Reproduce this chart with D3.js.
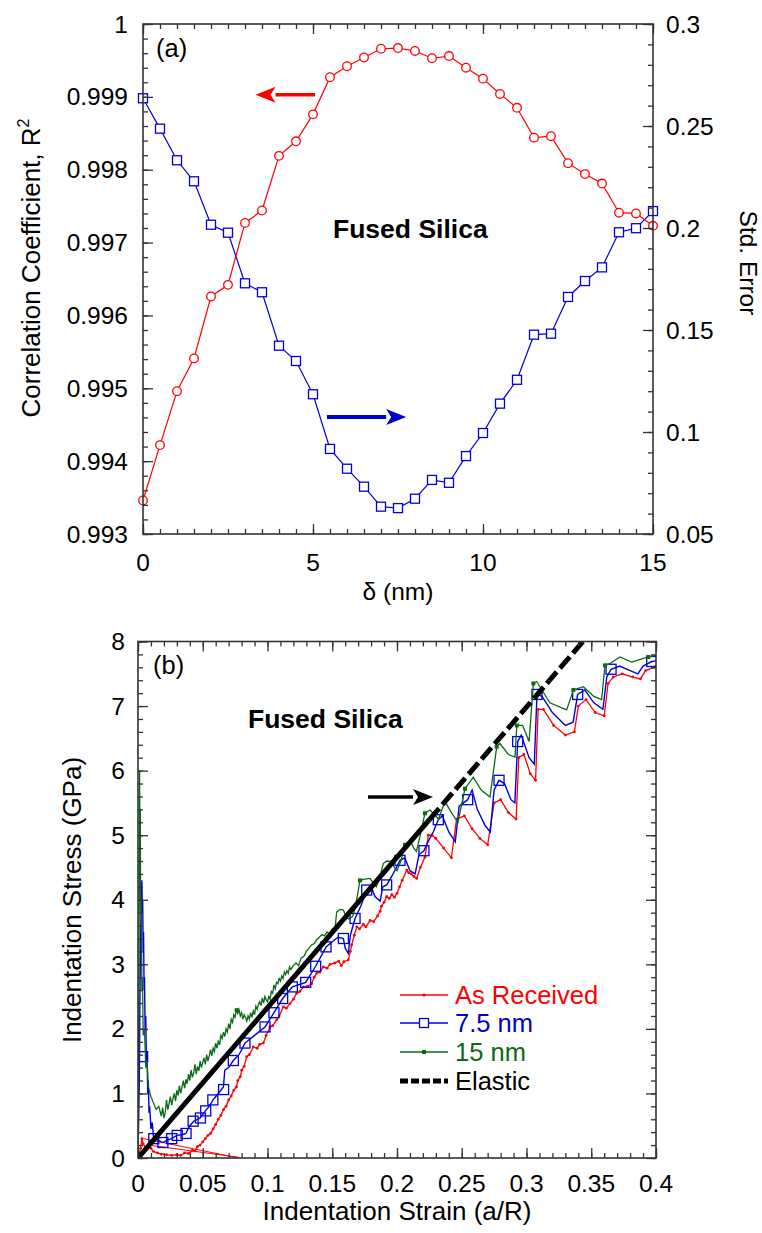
<!DOCTYPE html>
<html><head><meta charset="utf-8">
<script src="https://cdn.jsdelivr.net/npm/d3@7"></script>
<style>
body{margin:0;background:#fff}
svg{display:block}
text{font-family:"Liberation Sans",Arial,sans-serif;fill:#000}
</style>
</head><body>
<svg id="c" width="762" height="1233"></svg>
<script>
// ---------- Panel (a) data ----------
const delta = [0,0.5,1,1.5,2,2.5,3,3.5,4,4.5,5,5.5,6,6.5,7,7.5,8,8.5,9,9.5,10,10.5,11,11.5,12,12.5,13,13.5,14,14.5,15];
const r2 = [0.99346,0.99422,0.99496,0.99541,0.99626,0.99642,0.99727,0.99744,0.99819,0.99839,0.99876,0.99927,0.99942,0.99954,0.99966,0.99967,0.99963,0.99953,0.99956,0.99940,0.99925,0.99904,0.99885,0.99844,0.99846,0.99809,0.99794,0.99781,0.99741,0.99740,0.99723];
const stdErr = [0.2636,0.2487,0.2332,0.2229,0.2016,0.1977,0.1729,0.1685,0.1423,0.1348,0.1185,0.0917,0.0820,0.0732,0.0634,0.0627,0.0673,0.0765,0.0751,0.0882,0.0995,0.1139,0.1256,0.1477,0.1482,0.1662,0.1740,0.1807,0.1979,0.1999,0.2083];
const aXTicks = [0,5,10,15];
const aXLabels = ["0","5","10","15"];
const aYLTicks = [0.993,0.994,0.995,0.996,0.997,0.998,0.999,1];
const aYLLabels = ["0.993","0.994","0.995","0.996","0.997","0.998","0.999","1"];
const aYRTicks = [0.05,0.1,0.15,0.2,0.25,0.3];
const aYRLabels = ["0.05","0.1","0.15","0.2","0.25","0.3"];

// ---------- Panel (b) data ----------
const asReceived = [[0,0],[0.002,0.15],[0.003,0.3],[0.004,0.22],[0.006,0.15],[0.008,0.2],[0.01,0.15],[0.012,0.1],[0.015,0.08],[0.018,0.06],[0.022,0.05],[0.026,0.04],[0.03,0.05],[0.033,0.04],[0.036,0.08],[0.039,0.07],[0.042,0.12],[0.044,0.11],[0.046,0.18],[0.048,0.2],[0.05,0.25],[0.052,0.3],[0.054,0.35],[0.056,0.38],[0.058,0.45],[0.06,0.52],[0.062,0.6],[0.064,0.66],[0.066,0.75],[0.068,0.8],[0.07,0.9],[0.072,0.96],[0.074,1.05],[0.076,1.1],[0.077,1.2],[0.079,1.26],[0.0801,1.36],[0.082,1.42],[0.0839,1.57],[0.086,1.6],[0.089,1.72],[0.092,1.7],[0.094,1.76],[0.0968,1.78],[0.099,1.9],[0.1019,2.03],[0.104,2.05],[0.1071,2.14],[0.109,2.2],[0.1122,2.34],[0.1145,2.32],[0.1174,2.39],[0.12,2.46],[0.1225,2.55],[0.125,2.58],[0.1277,2.65],[0.131,2.66],[0.1341,2.7],[0.136,2.8],[0.138,2.86],[0.1405,2.88],[0.1431,2.96],[0.146,2.94],[0.1483,3.0],[0.152,3.02],[0.155,3.05],[0.157,2.98],[0.159,3.04],[0.1624,3.07],[0.164,3.2],[0.165,3.3],[0.167,3.45],[0.1689,3.58],[0.171,3.55],[0.174,3.62],[0.176,3.58],[0.1792,3.68],[0.182,3.66],[0.185,3.75],[0.187,3.82],[0.188,3.9],[0.19,3.96],[0.192,4.05],[0.194,4.02],[0.196,4.08],[0.198,4.04],[0.2,4.1],[0.202,4.2],[0.204,4.3],[0.2075,4.46],[0.209,4.42],[0.211,4.4],[0.213,4.36],[0.2152,4.33],[0.218,4.5],[0.2216,4.66],[0.2242,5.0],[0.227,5.0],[0.23,4.95],[0.236,4.8],[0.242,4.65],[0.246,5.25],[0.252,5.3],[0.258,5.1],[0.264,4.95],[0.27,4.85],[0.275,5.5],[0.28,5.55],[0.286,5.35],[0.292,5.25],[0.294,6.2],[0.298,6.25],[0.303,5.95],[0.307,5.85],[0.309,6.95],[0.313,6.95],[0.321,6.7],[0.33,6.55],[0.337,6.6],[0.34,7.0],[0.346,7.1],[0.353,6.9],[0.36,6.85],[0.363,7.35],[0.367,7.45],[0.374,7.5],[0.382,7.45],[0.388,7.42],[0.392,7.55],[0.398,7.6],[0.4,7.62]];
const asReceivedUnload = [[[0.004,0.3],[0.078,0.0]],[[0.008,0.2],[0.078,0.01]]];
const nm75 = [[0,0],[0.001,1.2],[0.0015,2.5],[0.002,3.4],[0.0025,4.0],[0.003,4.3],[0.0033,3.8],[0.0036,4.0],[0.004,3.2],[0.0043,3.5],[0.0047,2.6],[0.005,2.8],[0.0055,2.0],[0.006,2.2],[0.0065,1.5],[0.007,1.6],[0.0075,1.0],[0.008,1.2],[0.0085,0.7],[0.009,0.8],[0.01,0.45],[0.011,0.55],[0.012,0.32],[0.015,0.28],[0.019,0.24],[0.023,0.28],[0.026,0.3],[0.03,0.35],[0.034,0.36],[0.037,0.38],[0.04,0.5],[0.043,0.57],[0.046,0.6],[0.048,0.62],[0.052,0.73],[0.055,0.8],[0.058,0.9],[0.062,1.0],[0.066,1.1],[0.067,1.36],[0.07,1.4],[0.0736,1.51],[0.078,1.6],[0.0826,1.78],[0.09,1.9],[0.0981,2.03],[0.105,2.25],[0.1117,2.47],[0.1192,2.65],[0.1295,2.72],[0.1372,2.97],[0.1452,3.27],[0.150,3.35],[0.1545,3.42],[0.1586,3.40],[0.1600,3.25],[0.1624,3.17],[0.1640,3.45],[0.1676,3.71],[0.1720,3.90],[0.1766,4.15],[0.1800,4.20],[0.1830,4.05],[0.1870,3.98],[0.1890,4.20],[0.1920,4.23],[0.1970,4.40],[0.2023,4.61],[0.2060,4.65],[0.2100,4.45],[0.2140,4.40],[0.2170,4.70],[0.2208,4.76],[0.2240,4.90],[0.2280,5.05],[0.2319,5.24],[0.2350,5.30],[0.2400,5.05],[0.2450,4.90],[0.2480,5.45],[0.2546,5.55],[0.2580,5.70],[0.2620,5.40],[0.2680,5.15],[0.2720,5.05],[0.2750,5.70],[0.2788,5.85],[0.2830,5.80],[0.2880,5.55],[0.2910,5.50],[0.2932,6.45],[0.2960,6.55],[0.3020,6.20],[0.3060,6.10],[0.3081,7.18],[0.3120,7.15],[0.3200,6.90],[0.3300,6.70],[0.3360,6.75],[0.3395,7.18],[0.3450,7.25],[0.3520,7.05],[0.3590,6.95],[0.3620,7.45],[0.3653,7.57],[0.3720,7.62],[0.3800,7.55],[0.3860,7.50],[0.3900,7.62],[0.3967,7.69],[0.4000,7.70]];
const nm75Markers = [[0.0036,1.57],[0.0122,0.3],[0.0192,0.24],[0.026,0.3],[0.0303,0.35],[0.0371,0.38],[0.0426,0.57],[0.0482,0.62],[0.0523,0.73],[0.0578,0.9],[0.0661,1.06],[0.0736,1.51],[0.0826,1.78],[0.0981,2.03],[0.105,2.25],[0.1117,2.47],[0.1192,2.65],[0.1295,2.72],[0.1372,2.97],[0.1452,3.27],[0.1586,3.40],[0.1676,3.71],[0.1766,4.15],[0.1920,4.23],[0.2023,4.61],[0.2208,4.76],[0.2319,5.24],[0.2546,5.55],[0.2788,5.85],[0.2932,6.45],[0.3081,7.18],[0.3395,7.18],[0.3653,7.57],[0.3967,7.69]];
const nm15 = [[0,0],[0.0006,2.0],[0.001,4.5],[0.0012,6.0],[0.0015,5.0],[0.0018,5.4],[0.002,3.8],[0.0025,4.0],[0.003,2.6],[0.0035,2.8],[0.004,1.9],[0.005,2.0],[0.006,1.4],[0.007,1.5],[0.008,1.1],[0.01,0.95],[0.012,0.85],[0.014,0.75],[0.016,0.8],[0.018,0.65],[0.019,0.78],[0.02,0.62],[0.021,0.7],[0.022,0.9],[0.023,0.75],[0.024,0.85],[0.025,0.95],[0.026,0.82],[0.027,0.92],[0.028,1.0],[0.029,0.88],[0.03,1.05],[0.031,0.97],[0.032,1.12],[0.033,1.0],[0.034,1.1],[0.035,1.2],[0.036,1.08],[0.037,1.22],[0.038,1.15],[0.039,1.3],[0.04,1.2],[0.041,1.36],[0.042,1.25],[0.043,1.32],[0.044,1.45],[0.045,1.3],[0.046,1.42],[0.047,1.35],[0.048,1.5],[0.049,1.4],[0.05,1.48],[0.051,1.55],[0.052,1.45],[0.053,1.6],[0.054,1.5],[0.055,1.58],[0.056,1.68],[0.057,1.58],[0.058,1.7],[0.059,1.65],[0.06,1.78],[0.061,1.7],[0.062,1.82],[0.063,1.75],[0.064,1.9],[0.065,1.85],[0.066,1.95],[0.067,1.88],[0.068,2.0],[0.069,1.95],[0.07,2.08],[0.071,2.0],[0.072,2.15],[0.073,2.1],[0.074,2.22],[0.075,2.18],[0.076,2.3],[0.077,2.24],[0.078,2.3],[0.079,2.2],[0.08,2.25],[0.081,2.15],[0.082,2.22],[0.083,2.18],[0.084,2.12],[0.085,2.2],[0.086,2.15],[0.087,2.25],[0.088,2.18],[0.089,2.28],[0.09,2.22],[0.091,2.35],[0.092,2.3],[0.093,2.38],[0.094,2.42],[0.095,2.36],[0.096,2.48],[0.097,2.4],[0.098,2.5],[0.099,2.45],[0.1,2.42],[0.101,2.5],[0.102,2.46],[0.103,2.58],[0.104,2.55],[0.105,2.68],[0.106,2.62],[0.107,2.72],[0.108,2.7],[0.109,2.78],[0.11,2.74],[0.111,2.82],[0.112,2.78],[0.113,2.88],[0.114,2.84],[0.115,2.9],[0.116,2.86],[0.117,2.96],[0.118,2.92],[0.12,2.98],[0.122,3.02],[0.124,2.98],[0.126,3.1],[0.128,3.12],[0.13,3.2],[0.132,3.25],[0.134,3.3],[0.136,3.32],[0.138,3.38],[0.14,3.42],[0.142,3.46],[0.144,3.44],[0.146,3.5],[0.148,3.47],[0.15,3.55],[0.152,3.52],[0.1534,3.81],[0.156,3.85],[0.1586,3.84],[0.161,3.72],[0.163,3.7],[0.166,3.75],[0.168,3.9],[0.1714,4.3],[0.175,4.32],[0.1792,4.33],[0.182,4.25],[0.184,4.2],[0.186,4.3],[0.1894,4.56],[0.192,4.6],[0.196,4.59],[0.198,4.5],[0.2,4.45],[0.203,4.6],[0.2062,4.85],[0.2113,4.87],[0.213,4.8],[0.215,4.75],[0.218,5.0],[0.2216,5.34],[0.2255,5.39],[0.232,5.25],[0.2371,5.52],[0.242,5.35],[0.247,5.2],[0.2525,5.72],[0.2589,5.9],[0.265,5.7],[0.2718,5.59],[0.277,6.37],[0.2795,6.42],[0.286,6.25],[0.2911,6.21],[0.2925,6.7],[0.297,6.7],[0.302,6.45],[0.3053,7.35],[0.3079,7.38],[0.318,7.05],[0.331,6.94],[0.3362,7.25],[0.3439,7.3],[0.352,7.15],[0.358,7.1],[0.3606,7.63],[0.3645,7.66],[0.3722,7.76],[0.3812,7.68],[0.394,7.76],[0.4,7.79]];
const nm15Markers = [[0.0762,2.29],[0.1714,4.3],[0.2062,4.85],[0.2216,5.34],[0.2525,5.72],[0.277,6.37],[0.2925,6.7],[0.3053,7.35],[0.3362,7.25],[0.3606,7.63],[0.394,7.76]];
const elasticStrain = [0,0.225,0.3436];
const elasticStress = [0,5.24,8.0];
const bXTicks = [0,0.05,0.1,0.15,0.2,0.25,0.3,0.35,0.4];
const bXLabels = ["0","0.05","0.1","0.15","0.2","0.25","0.3","0.35","0.4"];
const bYTicks = [0,1,2,3,4,5,6,7,8];
const bYLabels = ["0","1","2","3","4","5","6","7","8"];
const legendNames = ["As Received","7.5 nm","15 nm","Elastic"];

// ---------- colours ----------
const RED = "#ff0000", BLUE = "#0000dd", BLUET = "#0000cc", GREEN = "#0b6a14", AXIS = "#333";

const svg = d3.select("#c");
const FS = 24.5, FT = 26;

function frameAxes(g, x, yl, yr, opts){
  const [x0,x1] = x.range(); const [y0,y1] = yl.range();
  const mk = (axisFn, scale, vals, size, tr) => {
    const a = axisFn(scale).tickValues(vals).tickSize(size).tickFormat("");
    const gg = g.append("g").attr("transform", tr).call(a);
    gg.select(".domain").remove();
    gg.selectAll("line").attr("stroke", AXIS).attr("stroke-width", 1.3);
  };
  mk(d3.axisBottom, x, opts.xMinor, -5, `translate(0,${y0})`);
  mk(d3.axisBottom, x, opts.xMajor, -10, `translate(0,${y0})`);
  mk(d3.axisTop, x, opts.xMinor, -5, `translate(0,${y1})`);
  mk(d3.axisTop, x, opts.xMajor, -10, `translate(0,${y1})`);
  mk(d3.axisLeft, yl, opts.ylMinor, -5, `translate(${x0},0)`);
  mk(d3.axisLeft, yl, opts.ylMajor, -10, `translate(${x0},0)`);
  mk(d3.axisRight, yr, opts.yrMinor, -5, `translate(${x1},0)`);
  mk(d3.axisRight, yr, opts.yrMajor, -10, `translate(${x1},0)`);
  g.append("rect").attr("x",x0).attr("y",y1).attr("width",x1-x0).attr("height",y0-y1)
    .attr("fill","none").attr("stroke",AXIS).attr("stroke-width",1.6);
}
function range(a,b,s){const r=[];for(let i=0;;i++){const v=+(a+i*s).toFixed(6); if(v>b+1e-9)break; r.push(v);}return r;}

// ================= Panel (a) =================
const ga = svg.append("g");
const xa = d3.scaleLinear().domain([0,15]).range([143,653]);
const yaL = d3.scaleLinear().domain([0.993,1]).range([534,24]);
const yaR = d3.scaleLinear().domain([0.05,0.3]).range([534,24]);

const lineR = d3.line().x((d,i)=>xa(delta[i])).y(d=>yaL(d));
const lineB = d3.line().x((d,i)=>xa(delta[i])).y(d=>yaR(d));
ga.append("path").attr("d", lineB(stdErr)).attr("fill","none").attr("stroke",BLUE).attr("stroke-width",1.2);
ga.append("path").attr("d", lineR(r2)).attr("fill","none").attr("stroke",RED).attr("stroke-width",1.2);
ga.selectAll(".sq").data(stdErr).join("rect")
  .attr("x",(d,i)=>xa(delta[i])-4.5).attr("y",d=>yaR(d)-4.5).attr("width",9).attr("height",9)
  .attr("fill","#fff").attr("stroke",BLUE).attr("stroke-width",1.3);
ga.selectAll(".ci").data(r2).join("circle")
  .attr("cx",(d,i)=>xa(delta[i])).attr("cy",d=>yaL(d)).attr("r",4.3)
  .attr("fill","#fff").attr("stroke",RED).attr("stroke-width",1.3);

frameAxes(ga, xa, yaL, yaR, {
  xMajor:aXTicks, xMinor:range(0,15,0.5),
  ylMajor:aYLTicks, ylMinor:range(0.993,1,0.0002),
  yrMajor:aYRTicks, yrMinor:range(0.05,0.3,0.01)
});
ga.selectAll(".xl").data(aXTicks).join("text").attr("x",d=>xa(d)).attr("y",571)
  .attr("text-anchor","middle").attr("font-size",FS).text((d,i)=>aXLabels[i]);
ga.selectAll(".yl").data(aYLTicks).join("text").attr("x",128).attr("y",d=>yaL(d)+8.5)
  .attr("text-anchor","end").attr("font-size",FS).text((d,i)=>aYLLabels[i]);
ga.selectAll(".yr").data(aYRTicks).join("text").attr("x",666).attr("y",d=>yaR(d)+8.5)
  .attr("text-anchor","start").attr("font-size",FS).text((d,i)=>aYRLabels[i]);
ga.append("text").attr("x",398).attr("y",600).attr("text-anchor","middle").attr("font-size",FS).text("δ (nm)");
const tl = ga.append("text").attr("transform","translate(40,268) rotate(-90)").attr("text-anchor","middle").attr("font-size",FT);
tl.append("tspan").text("Correlation Coefficient, R");
tl.append("tspan").attr("font-size",16).attr("dy",-11).text("2");
ga.append("text").attr("transform","translate(740,263) rotate(90)").attr("text-anchor","middle").attr("font-size",FS).text("Std. Error");
ga.append("text").attr("x",156).attr("y",57).attr("font-size",25.5).text("(a)");
ga.append("text").attr("x",333).attr("y",238).attr("font-size",26.5).attr("font-weight","bold").text("Fused Silica");

function arrow(g, x1, y1, x2, y2, color, w, hl, hw){
  const ang = Math.atan2(y2-y1, x2-x1);
  const bx = x2 - hl*Math.cos(ang), by = y2 - hl*Math.sin(ang);
  g.append("line").attr("x1",x1).attr("y1",y1).attr("x2",bx).attr("y2",by).attr("stroke",color).attr("stroke-width",w);
  const px = -Math.sin(ang)*hw, py = Math.cos(ang)*hw;
  const ix = x2 - hl*0.75*Math.cos(ang), iy = y2 - hl*0.75*Math.sin(ang);
  g.append("path").attr("d",`M${x2},${y2}L${bx+px},${by+py}L${ix},${iy}L${bx-px},${by-py}Z`).attr("fill",color);
}
arrow(ga, xa(5.06), yaL(0.99903), xa(3.31), yaL(0.99903), RED, 3.5, 20, 8);
arrow(ga, xa(5.41), yaR(0.1074), xa(7.74), yaR(0.1074), BLUET, 4, 20, 8);

// ================= Panel (b) =================
const gb = svg.append("g");
const xb = d3.scaleLinear().domain([0,0.4]).range([138,656]);
const yb = d3.scaleLinear().domain([0,8]).range([1158,641.5]);
svg.append("clipPath").attr("id","clipb").append("rect").attr("x",138).attr("y",641.5).attr("width",518).attr("height",516.5);
const plot = gb.append("g").attr("clip-path","url(#clipb)");
const lb = d3.line().x(d=>xb(d[0])).y(d=>yb(d[1]));

asReceivedUnload.forEach(seg=>plot.append("path").attr("d",lb(seg)).attr("fill","none").attr("stroke",RED).attr("stroke-width",1));
plot.append("path").attr("d",lb(asReceived)).attr("fill","none").attr("stroke",RED).attr("stroke-width",1.3);
plot.selectAll(".rd").data(asReceived).join("circle").attr("cx",d=>xb(d[0])).attr("cy",d=>yb(d[1])).attr("r",1.4).attr("fill",RED);
plot.append("path").attr("d",lb(nm75)).attr("fill","none").attr("stroke",BLUE).attr("stroke-width",1.4);
plot.selectAll(".bs").data(nm75Markers).join("rect").attr("x",d=>xb(d[0])-5).attr("y",d=>yb(d[1])-5).attr("width",10).attr("height",10)
  .attr("fill","none").attr("stroke",BLUE).attr("stroke-width",1.3);
plot.append("path").attr("d",lb(nm15)).attr("fill","none").attr("stroke",GREEN).attr("stroke-width",1.3);
plot.selectAll(".gs").data(nm15Markers).join("rect").attr("x",d=>xb(d[0])-2).attr("y",d=>yb(d[1])-2).attr("width",4).attr("height",4).attr("fill",GREEN);
const el = elasticStrain.map((s,i)=>[s,elasticStress[i]]);
plot.append("path").attr("d",lb(el.slice(0,2))).attr("fill","none").attr("stroke","#000").attr("stroke-width",5);
plot.append("path").attr("d",lb(el.slice(1))).attr("fill","none").attr("stroke","#000").attr("stroke-width",5).attr("stroke-dasharray","15,5");

frameAxes(gb, xb, yb, yb, {
  xMajor:bXTicks, xMinor:range(0,0.4,0.01),
  ylMajor:bYTicks, ylMinor:range(0,8,0.2),
  yrMajor:bYTicks, yrMinor:range(0,8,0.2)
});
gb.selectAll(".xl").data(bXTicks).join("text").attr("x",d=>xb(d)).attr("y",1192)
  .attr("text-anchor","middle").attr("font-size",FS).text((d,i)=>bXLabels[i]);
gb.selectAll(".yl").data(bYTicks).join("text").attr("x",125).attr("y",d=>yb(d)+8.5)
  .attr("text-anchor","end").attr("font-size",FS).text((d,i)=>bYLabels[i]);
gb.append("text").attr("x",397).attr("y",1220).attr("text-anchor","middle").attr("font-size",FT).text("Indentation Strain (a/R)");
gb.append("text").attr("transform","translate(81,900) rotate(-90)").attr("text-anchor","middle").attr("font-size",FT).text("Indentation Stress (GPa)");
gb.append("text").attr("x",153).attr("y",674).attr("font-size",25.5).text("(b)");
gb.append("text").attr("x",248).attr("y",728).attr("font-size",26.5).attr("font-weight","bold").text("Fused Silica");
arrow(gb, xb(0.1776), yb(5.59), xb(0.2278), yb(5.59), "#000", 3.5, 20, 8);

const legY = [995,1023,1052,1081];
const legC = [RED,BLUET,GREEN,"#000"];
const lg = gb.append("g");
legendNames.forEach((n,i)=>{
  const y = legY[i];
  const ln = lg.append("line").attr("x1",400).attr("x2",448).attr("y1",y).attr("y2",y)
    .attr("stroke",i===1?BLUE:legC[i]).attr("stroke-width",i===3?5:1.3);
  if(i===3) ln.attr("stroke-dasharray","8,3");
  if(i===0) lg.append("circle").attr("cx",424).attr("cy",y).attr("r",1.6).attr("fill",RED);
  if(i===1) lg.append("rect").attr("x",419.5).attr("y",y-4.5).attr("width",9).attr("height",9).attr("fill","#fff").attr("stroke",BLUE).attr("stroke-width",1.3);
  if(i===2) lg.append("rect").attr("x",422).attr("y",y-2).attr("width",4).attr("height",4).attr("fill",GREEN);
  lg.append("text").attr("x",455).attr("y",y+9).attr("font-size",25.5).style("fill",legC[i]).text(n);
});
</script>
</body></html>
